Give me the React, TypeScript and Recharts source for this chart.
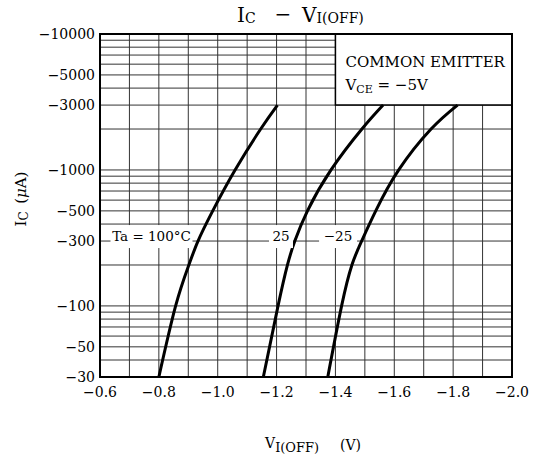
import React from "react";
import {
  LineChart,
  Line,
  XAxis,
  YAxis,
  CartesianGrid,
  ReferenceArea,
  ReferenceDot,
} from "recharts";

// collector current levels (uA) shared by all three curves
const currentLevels = [-30, -100, -200, -300, -500, -1000, -2000, -3000];
// input off voltage (V) read at each level
const vOffHot = [-0.8, -0.857, -0.902, -0.933, -0.983, -1.059, -1.146, -1.203];
const vOffRoom = [-1.155, -1.205, -1.237, -1.262, -1.305, -1.385, -1.49, -1.562];
const vOffCold = [-1.374, -1.421, -1.456, -1.489, -1.537, -1.615, -1.725, -1.815];

const xTicks = [-0.6, -0.7, -0.8, -0.9, -1.0, -1.1, -1.2, -1.3, -1.4, -1.5, -1.6, -1.7, -1.8, -1.9, -2.0];
const xLabelled = [-0.6, -0.8, -1.0, -1.2, -1.4, -1.6, -1.8, -2.0];
const yTicks = [
  30, 40, 50, 60, 70, 80, 90, 100, 200, 300, 400, 500, 600, 700, 800, 900,
  1000, 2000, 3000, 4000, 5000, 6000, 7000, 8000, 9000, 10000,
];
const yLabelled = [30, 50, 100, 300, 500, 1000, 3000, 5000, 10000];

const FONT = "DejaVu Serif";

const toRows = (volts: number[]) =>
  volts.map((v, k) => ({ v, i: Math.abs(currentLevels[k]) }));

const hotRows = toRows(vOffHot);
const roomRows = toRows(vOffRoom);
const coldRows = toRows(vOffCold);

const fmtX = (v: number) =>
  xLabelled.includes(v) ? "\u2212" + Math.abs(v).toFixed(1) : "";
const fmtY = (v: number) => (yLabelled.includes(v) ? "\u2212" + v : "");

function BoxLabel(props: any) {
  const vb = props.viewBox || { x: 0, y: 0 };
  return (
    <g fontFamily={FONT} fill="#000">
      <text x={vb.x + 10} y={vb.y + 33} fontSize={15}>
        COMMON EMITTER
      </text>
      <text x={vb.x + 10} y={vb.y + 56} fontSize={15}>
        V
        <tspan fontSize={11} dy={3}>CE</tspan>
        <tspan dy={-3}> = {"\u2212"}5V</tspan>
      </text>
    </g>
  );
}

function tempTag(text: string, w: number) {
  return (p: any) => (
    <g>
      <rect x={p.cx - w / 2} y={p.cy - 16} width={w} height={23} fill="#fff" />
      <text
        x={p.cx}
        y={p.cy}
        textAnchor="middle"
        fontFamily={FONT}
        fontSize={13.5}
        fill="#000"
      >
        {text}
      </text>
    </g>
  );
}

export default function App() {
  return (
    <div style={{ position: "absolute", left: 0, top: 0, width: 537, height: 456, background: "#fff" }}>
      <LineChart
        width={537}
        height={456}
        margin={{ top: 34, right: 25, bottom: 49, left: 0 }}
      >
        <CartesianGrid stroke="#333" strokeWidth={1} />
        <XAxis
          type="number"
          dataKey="v"
          domain={[-2.0, -0.6]}
          reversed
          ticks={xTicks}
          interval={0}
          tickFormatter={fmtX}
          tickLine={false}
          tickSize={0}
          tickMargin={10}
          axisLine={false}
          height={30}
          allowDataOverflow
          tick={{ fontSize: 14, fill: "#000", fontFamily: FONT }}
        />
        <YAxis
          type="number"
          dataKey="i"
          scale="log"
          domain={[30, 10000]}
          ticks={yTicks}
          interval={0}
          tickFormatter={fmtY}
          tickLine={false}
          tickSize={0}
          tickMargin={5}
          axisLine={false}
          width={100}
          allowDataOverflow
          tick={{ fontSize: 14, fill: "#000", fontFamily: FONT }}
        />
        <ReferenceArea
          x1={-1.4}
          x2={-2.0}
          y1={3000}
          y2={10000}
          fill="#fff"
          fillOpacity={1}
          stroke="#000"
          strokeWidth={1.5}
          label={<BoxLabel />}
        />
        <ReferenceArea
          x1={-0.6}
          x2={-2.0}
          y1={30}
          y2={10000}
          fill="none"
          stroke="#000"
          strokeWidth={2}
        />
        <ReferenceDot x={-0.775} y={300} r={0} shape={tempTag("Ta = 100\u00B0C", 82)} />
        <ReferenceDot x={-1.215} y={300} r={0} shape={tempTag("25", 24)} />
        <ReferenceDot x={-1.409} y={300} r={0} shape={tempTag("\u221225", 38)} />
        <Line data={hotRows} dataKey="i" type="natural" stroke="#000" strokeWidth={3} dot={false} isAnimationActive={false} />
        <Line data={roomRows} dataKey="i" type="natural" stroke="#000" strokeWidth={3} dot={false} isAnimationActive={false} />
        <Line data={coldRows} dataKey="i" type="natural" stroke="#000" strokeWidth={3} dot={false} isAnimationActive={false} />
      </LineChart>
      <svg
        width={537}
        height={456}
        style={{ position: "absolute", left: 0, top: 0, pointerEvents: "none" }}
        fontFamily={FONT}
        fill="#000"
      >
        <text x={237} y={22} fontSize={20}>
          I<tspan fontSize={14} dy={1}>C</tspan>
        </text>
        <text x={283} y={21} fontSize={20} textAnchor="middle">{"\u2212"}</text>
        <text x={302} y={22} fontSize={20}>
          V<tspan fontSize={14} dy={1}>I(OFF)</tspan>
        </text>
        <text x={265} y={448} fontSize={14}>
          V<tspan fontSize={13} dy={4}>I(OFF)</tspan>
        </text>
        <text x={340} y={450} fontSize={14}>(V)</text>
        <text x={21} y={199} fontSize={15} textAnchor="middle" transform="rotate(-90 21 199)" dy={5}>
          I<tspan fontSize={12} dy={2}>C</tspan>
          <tspan dy={-2}>{"\u2002"}(</tspan>
          <tspan fontStyle="italic">{"\u03BC"}</tspan>A)
        </text>
      </svg>
    </div>
  );
}
